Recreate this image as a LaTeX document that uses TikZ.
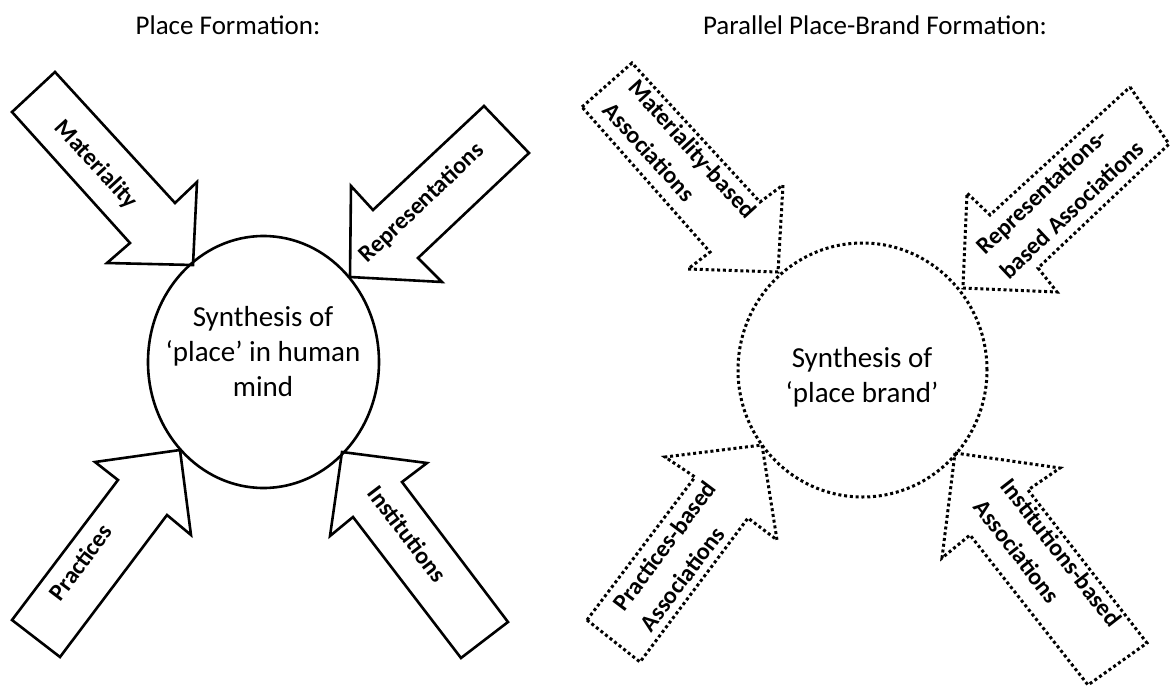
\documentclass[tikz,border=0pt]{standalone}
\usepackage{fontspec}
\setmainfont{Carlito}
\usetikzlibrary{
  shapes.geometric
}

\begin{document}
\begin{tikzpicture}[
  x=1pt, y=-1pt,
  line width=2.6pt,
  solidarrow/.style={draw, line join=miter},
  dotarrow/.style={draw, line width=3pt, dash pattern=on 3pt off 2.8pt},
  arrowtext/.style={font=\bfseries\fontsize{24}{34}\selectfont, align=left, inner sep=0pt},
  heading/.style={font=\fontsize{27}{32}\selectfont, inner sep=0pt},
  synthtext/.style={font=\fontsize{29}{35}\selectfont, align=center, inner sep=0pt},
  placering/.style={ellipse, draw, inner sep=0pt},
]
\useasboundingbox (0,0) rectangle (1171,688);

\node[heading] (placetitle) at (228,25) {Place Formation:};
\node[heading] (brandtitle) at (875,25) {Parallel Place-Brand Formation:};

\node[placering, minimum width=231pt, minimum height=252pt] (place) at (263.5,362) {};
\node[synthtext] (placetext) at (263,352) {Synthesis of\\`place' in human\\mind};
\node[placering, dotarrow, minimum width=249pt, minimum height=254pt] (brand) at (862.5,370) {};
\node[synthtext] (brandtext) at (862,377) {Synthesis of\\`place brand'};

\draw[solidarrow] (12,112) -- (55,72) -- (175,203) -- (197,182) -- (193,265) -- (107,263) -- (130,243) -- cycle;
\draw[solidarrow] (484,106) -- (529,153) -- (418,258) -- (442,282) -- (350,277) -- (351,186) -- (373,210) -- cycle;
\draw[solidarrow] (12,620) -- (60,657) -- (167,515) -- (191,535) -- (180,450) -- (95,462) -- (118,480) -- cycle;
\draw[solidarrow] (342,452) -- (427,463) -- (402,482) -- (508,622) -- (461,658) -- (353,517) -- (330,536) -- cycle;
\node[arrowtext, rotate=-47.5] (materiality) at (96,165) {Materiality};
\node[arrowtext, rotate=43.4] (representations) at (422,203) {Representations};
\node[arrowtext, rotate=53] (practices) at (80.5,562) {Practices};
\node[arrowtext, rotate=-52.8] (institutions) at (407.5,534) {Institutions};

\draw[dotarrow] (582,107) -- (632,63) -- (760,202) -- (783,185) -- (778,272) -- (688,269) -- (710,252) -- cycle;
\draw[dotarrow] (1130,87) -- (1169,144) -- (1038,268) -- (1057,292) -- (963,288) -- (967,193) -- (990,215) -- cycle;
\draw[dotarrow] (587,620) -- (640,662) -- (748,518) -- (777,540) -- (762,445) -- (665,457) -- (695,477) -- cycle;
\draw[dotarrow] (955,453) -- (1060,468) -- (1028,490) -- (1147,643) -- (1088,685) -- (970,535) -- (942,558) -- cycle;
\node[arrowtext, rotate=-47.8] (materialityb) at (680,160) {Materiality-based\\Associations};
\node[arrowtext, rotate=43.4] (representationsb) at (1060,197) {Representations-\\based Associations};
\node[arrowtext, rotate=53.1] (practicesb) at (678,556) {Practices-based\\Associations};
\node[arrowtext, rotate=-52.1] (institutionsb) at (1048,563) {Institutions-based\\Associations};
\end{tikzpicture}
\end{document}
